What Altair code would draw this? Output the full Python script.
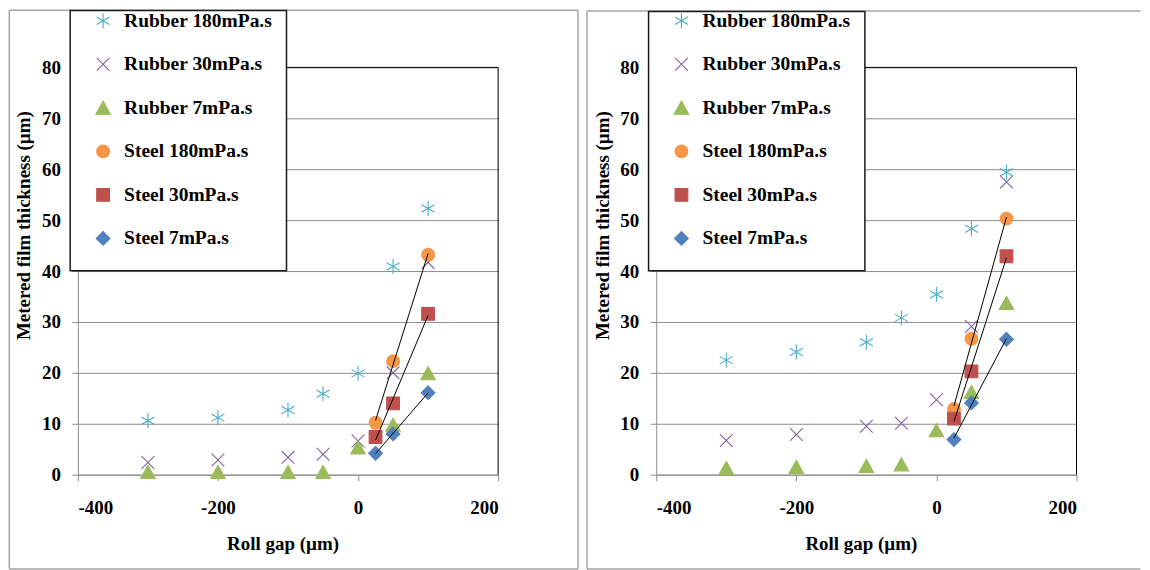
import altair as alt
import pandas as pd

# ---------------- data ----------------
rubber_gap = [-300, -200, -100, -50, 0, 50, 100]
steel_gap = [25, 50, 100]

# left panel
a_rubber_180 = [10.6, 11.2, 12.7, 15.9, 19.9, 40.9, 52.3]
a_rubber_30 = [2.4, 2.9, 3.4, 4.0, 6.6, 20.0, 41.7]
a_rubber_7 = [0.5, 0.5, 0.5, 0.5, 5.3, 9.8, 19.9]
a_steel_180 = [10.2, 22.3, 43.2]
a_steel_30 = [7.4, 14.0, 31.6]
a_steel_7 = [4.2, 8.0, 16.1]

# right panel
b_rubber_180 = [22.5, 24.1, 26.0, 30.8, 35.4, 48.3, 59.4]
b_rubber_30 = [6.7, 7.9, 9.5, 10.1, 14.7, 29.1, 57.5]
b_rubber_7 = [1.3, 1.5, 1.7, 2.0, 8.7, 16.2, 33.7]
b_steel_180 = [12.9, 26.7, 50.3]
b_steel_30 = [11.0, 20.3, 42.9]
b_steel_7 = [6.9, 14.1, 26.6]

series_names = ["Rubber 180mPa.s", "Rubber 30mPa.s", "Rubber 7mPa.s",
                "Steel 180mPa.s", "Steel 30mPa.s", "Steel 7mPa.s"]
steel_names = series_names[3:]
series_colors = ["#4BACC6", "#8064A2", "#9BBB59", "#F79646", "#C0504D", "#4F81BD"]
series_shapes = [
    "M0,-1L0,1M-0.87,-0.5L0.87,0.5M-0.87,0.5L0.87,-0.5",   # asterisk
    "M-0.85,-0.85L0.85,0.85M-0.85,0.85L0.85,-0.85",         # x
    "M0,-0.9L0.97,0.85L-0.97,0.85Z",                        # triangle
    "M-0.85,0A0.85,0.85,0,1,1,0.85,0A0.85,0.85,0,1,1,-0.85,0Z",  # circle
    "M-0.85,-0.85L0.85,-0.85L0.85,0.85L-0.85,0.85Z",        # square
    "M0,-0.92L0.92,0L0,0.92L-0.92,0Z",                      # diamond
]
x_ticks = [-400, -200, 0, 200]
y_ticks = [0, 10, 20, 30, 40, 50, 60, 70, 80]

X_TITLE = "Roll gap (µm)"
Y_TITLE = "Metered film thickness (µm)"
FONT = "'Liberation Serif', 'Times New Roman', 'DejaVu Serif', serif"
W, H = 421, 408


def build_df(r180, r30, r7, s180, s30, s7):
    rows = []
    groups = [(series_names[0], rubber_gap, r180), (series_names[1], rubber_gap, r30),
              (series_names[2], rubber_gap, r7), (series_names[3], steel_gap, s180),
              (series_names[4], steel_gap, s30), (series_names[5], steel_gap, s7)]
    for name, gaps, vals in groups:
        for g, v in zip(gaps, vals):
            rows.append({"gap": g, "thickness": v, "series": name})
    return pd.DataFrame(rows)


dummy = pd.DataFrame({"k": [0]})


def rule(x, x2, y, y2, color, width):
    return alt.Chart(dummy).mark_rule(color=color, strokeWidth=width).encode(
        x=alt.value(x), x2=alt.value(x2), y=alt.value(y), y2=alt.value(y2))


def panel(df, frame, legend_top):
    fl, fr, ft, fb, draw_right = frame
    x_enc = alt.X("gap:Q", scale=alt.Scale(domain=[-400, 200], nice=False),
                  axis=alt.Axis(values=x_ticks, grid=False, title=X_TITLE,
                                titleX=205, titleY=69, titleBaseline="middle",
                                labelPadding=18, labelBaseline="top",
                                labelExpr="'' + datum.value"))
    y_enc = alt.Y("thickness:Q", scale=alt.Scale(domain=[0, 80], nice=False),
                  axis=alt.Axis(values=y_ticks, grid=True, title=Y_TITLE,
                                titleX=-54, titleY=158, titleBaseline="middle",
                                labelPadding=11.5))
    frame_layers = [
        rule(fl, fr, ft, ft, "#a6a6a6", 1.5),
        rule(fl, fl, ft, fb, "#a6a6a6", 1.5),
        rule(fl, fr, fb, fb, "#a6a6a6", 1.5),
    ]
    if draw_right:
        frame_layers.append(rule(fr, fr, ft, fb, "#a6a6a6", 1.5))
    border = [rule(0, W, 0, 0, "black", 1), rule(W, W, 0, H, "black", 1)]

    pts = alt.Chart(df).mark_point(filled=True, size=225, strokeWidth=1.1, opacity=1).encode(
        x=x_enc, y=y_enc,
        fill=alt.Fill("series:N", title=None,
                      scale=alt.Scale(domain=series_names, range=series_colors)),
        stroke=alt.Stroke("series:N", title=None,
                          scale=alt.Scale(domain=series_names, range=series_colors)),
        shape=alt.Shape("series:N", title=None,
                        scale=alt.Scale(domain=series_names, range=series_shapes)),
    )
    lines = alt.Chart(df).transform_filter(
        alt.FieldOneOfPredicate(field="series", oneOf=steel_names)
    ).transform_regression(
        "gap", "thickness", groupby=["series"], extent=[25, 100]
    ).mark_line(color="black", strokeWidth=1).encode(
        x=x_enc, y=y_enc, detail="series:N")
    legend_box = alt.Chart(dummy).mark_rect(fill="white", stroke="#1a1a1a", strokeWidth=1.5).encode(
        x=alt.value(-7.7), x2=alt.value(209), y=alt.value(legend_top), y2=alt.value(203.6))
    return alt.layer(*frame_layers, *border, pts, lines, legend_box).properties(width=W, height=H)


left = panel(build_df(a_rubber_180, a_rubber_30, a_rubber_7, a_steel_180, a_steel_30, a_steel_7),
             (-68.7, 501, -57.3, 502.6, True), -57)
right = panel(build_df(b_rubber_180, b_rubber_30, b_rubber_7, b_steel_180, b_steel_30, b_steel_7),
              (-69.4, 485, -56.4, 502.6, False), -56)

chart = alt.hconcat(left, right, spacing=6.4).resolve_scale(
    fill="independent", stroke="independent", shape="independent"
).properties(padding=0, background="white").configure_view(strokeWidth=0).configure_axis(
    labelFont=FONT, labelFontSize=19, labelFontWeight="bold", labelColor="black",
    titleFont=FONT, titleFontSize=19, titleFontWeight="bold", titleColor="black",
    gridColor="#8c8c8c", gridWidth=1, domainColor="#8c8c8c", tickColor="#8c8c8c",
    tickSize=6,
).configure_legend(
    orient="none", legendX=15.5, legendY=-56.4, padding=0, rowPadding=22.6,
    labelFont=FONT, labelFontSize=19.5, labelFontWeight="bold", labelColor="black",
    symbolSize=225, symbolStrokeWidth=1.1, labelOffset=11.3, labelLimit=300, symbolOffset=0,
)

chart.save("out.html", embed_options={"renderer": "svg", "actions": False})
